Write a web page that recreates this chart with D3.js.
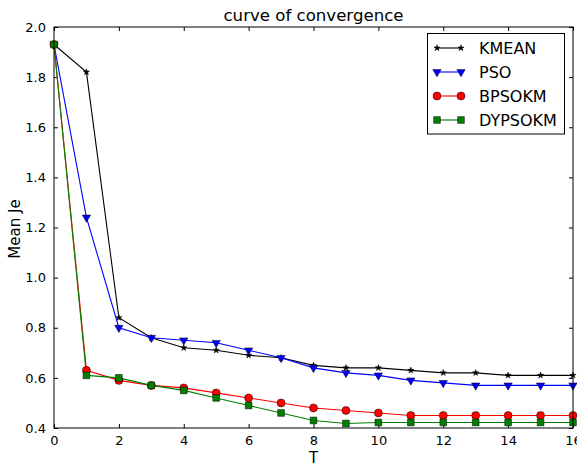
<!DOCTYPE html>
<html>
<head>
<meta charset="utf-8">
<script src="https://cdn.jsdelivr.net/npm/d3@7"></script>
<style>
body { margin: 0; background: #fff; }
svg text { font-family: "DejaVu Sans", sans-serif; fill: #000; }
</style>
</head>
<body>
<svg id="svg" width="577" height="466"></svg>
<script>
var iters = [0,1,2,3,4,5,6,7,8,9,10,11,12,13,14,15,16];
var kmean = [1.93,1.82,0.84,0.76,0.72,0.71,0.69,0.68,0.65,0.64,0.64,0.63,0.62,0.62,0.61,0.61,0.61];
var pso = [1.93,1.24,0.80,0.76,0.75,0.74,0.71,0.68,0.64,0.62,0.61,0.59,0.58,0.57,0.57,0.57,0.57];
var bpsokm = [1.93,0.63,0.59,0.57,0.56,0.54,0.52,0.50,0.48,0.47,0.46,0.45,0.45,0.45,0.45,0.45,0.45];
var dypsokm = [1.93,0.61,0.60,0.57,0.55,0.52,0.49,0.46,0.43,0.418,0.422,0.422,0.422,0.422,0.422,0.422,0.422];
var xTicks = [0,2,4,6,8,10,12,14,16];
var yTicks = [0.4,0.6,0.8,1.0,1.2,1.4,1.6,1.8,2.0];

var series = [
	{name: "KMEAN", values: kmean, color: "#000000", marker: "star"},
	{name: "PSO", values: pso, color: "#0000ff", marker: "tri"},
	{name: "BPSOKM", values: bpsokm, color: "#ff0000", marker: "circle"},
	{name: "DYPSOKM", values: dypsokm, color: "#008000", marker: "square"}
];

var pLeft = 54, pRight = 573, pTop = 27, pBottom = 428;
var svg = d3.select("#svg");

var x = d3.scaleLinear().domain([0,16]).range([pLeft,pRight]);
var y = d3.scaleLinear().domain([0.4,2.0]).range([pBottom,pTop]);

function symbolFor(m){
	if(m === "star") return d3.symbol().type(d3.symbolStar).size(12);
	if(m === "tri") return d3.symbol().type(d3.symbolTriangle).size(30);
	if(m === "circle") return d3.symbol().type(d3.symbolCircle).size(50);
	return d3.symbol().type(d3.symbolSquare).size(45);
}

// axes with inward ticks on all sides
var fmt = d3.format(".1f");
svg.append("g").attr("transform","translate(0," + pBottom + ")")
	.call(d3.axisBottom(x).tickValues(xTicks).tickSizeInner(-4).tickSizeOuter(0).tickPadding(8).tickFormat(d3.format("d")));
svg.append("g").attr("transform","translate(0," + pTop + ")")
	.call(d3.axisTop(x).tickValues(xTicks).tickSizeInner(-4).tickSizeOuter(0).tickFormat(""));
svg.append("g").attr("transform","translate(" + pLeft + ",0)")
	.call(d3.axisLeft(y).tickValues(yTicks).tickSizeInner(-4).tickSizeOuter(0).tickPadding(8).tickFormat(fmt));
svg.append("g").attr("transform","translate(" + pRight + ",0)")
	.call(d3.axisRight(y).tickValues(yTicks).tickSizeInner(-4).tickSizeOuter(0).tickFormat(""));
svg.selectAll(".domain").remove();
svg.selectAll(".tick line").attr("stroke","#000");
svg.selectAll(".tick text").style("font-size","13px").attr("fill","#000");

var line = d3.line().x(function(d,i){ return x(iters[i]); }).y(function(d){ return y(d); });

series.forEach(function(s){
	svg.append("path").attr("d", line(s.values)).attr("fill","none")
		.attr("stroke", s.color).attr("stroke-width",1.1);
});
series.forEach(function(s){
	var sym = symbolFor(s.marker);
	svg.append("g").selectAll("path").data(s.values).enter().append("path")
		.attr("d", sym)
		.attr("transform", function(d,i){
			var r = s.marker === "tri" ? " rotate(180)" : "";
			return "translate(" + x(iters[i]) + "," + y(d) + ")" + r;
		})
		.attr("fill", s.color).attr("stroke","#000").attr("stroke-width",0.5);
});

// frame
svg.append("rect").attr("x",pLeft).attr("y",pTop).attr("width",pRight-pLeft).attr("height",pBottom-pTop)
	.attr("fill","none").attr("stroke","#000").attr("stroke-width",1);

// titles
svg.append("text").attr("x",(pLeft+pRight)/2).attr("y",21).attr("text-anchor","middle")
	.style("font-size","16.6px").text("curve of convergence");
svg.append("text").attr("x",(pLeft+pRight)/2).attr("y",463).attr("text-anchor","middle")
	.style("font-size","15px").text("T");
svg.append("text").attr("transform","translate(20," + 229 + ") rotate(-90)")
	.attr("text-anchor","middle").style("font-size","15px").text("Mean Je");

// legend
var lg = svg.append("g");
lg.append("rect").attr("x",427.5).attr("y",33.5).attr("width",137).attr("height",100.5)
	.attr("fill","#fff").attr("stroke","#000");
series.forEach(function(s,i){
	var ly = 48 + i*24;
	lg.append("line").attr("x1",437).attr("x2",461).attr("y1",ly).attr("y2",ly)
		.attr("stroke",s.color).attr("stroke-width",1.1);
	[437,461].forEach(function(px){
		lg.append("path").attr("d", symbolFor(s.marker))
			.attr("transform","translate(" + px + "," + ly + ")" + (s.marker === "tri" ? " rotate(180)" : ""))
			.attr("fill", s.color).attr("stroke","#000").attr("stroke-width",0.5);
	});
	lg.append("text").attr("x",479).attr("y",ly+6).style("font-size","16px").text(s.name);
});
</script>
</body>
</html>
